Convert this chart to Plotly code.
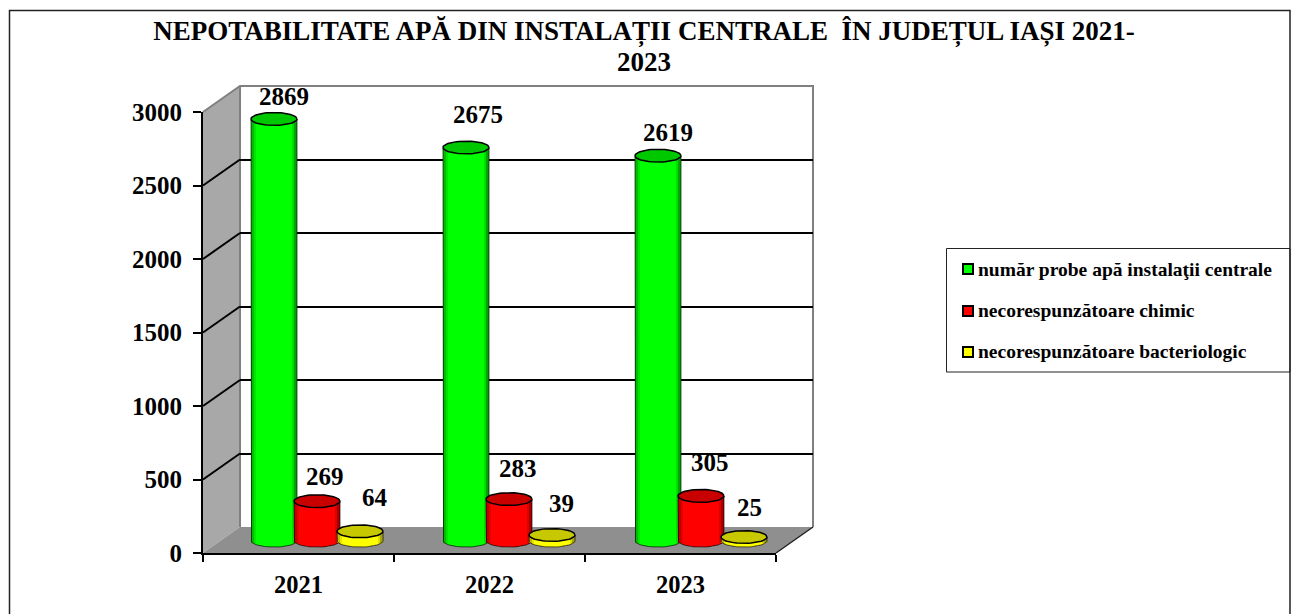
import math
import plotly.graph_objects as go

categories = ["2021", "2022", "2023"]
series_names = ["număr probe apă instalaţii centrale", "necorespunzătoare chimic", "necorespunzătoare bacteriologic"]
probe_values = [2869, 2675, 2619]
chimic_values = [269, 283, 305]
bacterio_values = [64, 39, 25]
all_values = [probe_values, chimic_values, bacterio_values]
y_ticks = [0, 500, 1000, 1500, 2000, 2500, 3000]
title_line1 = "NEPOTABILITATE APĂ DIN INSTALAȚII CENTRALE  ÎN JUDEȚUL IAȘI 2021-"
title_line2 = "2023"

# styling
W, H = 1300, 614
FONT = "Liberation Serif"
bright = [(0, 255, 0), (255, 0, 0), (255, 255, 0)]
legend_colors = ["#00FF00", "#FF0000", "#FFFF00"]
cap_colors = ["#00C800", "#C80000", "#C8C800"]
FX0, FX1, FY0, FY1 = 203, 776, 553, 112      # front axes box (px)
DX, DY = 37, 26                              # depth of walls (px)
BY = 12.3                                    # cylinders' vertical shift (px)
PXU = (FY0 - FY1) / 3000
CAT_PX = 192                                 # cylinder group spacing (px)
GROUP0_PX = 317                              # centre of the first group (px)
HALF_W = 23 / CAT_PX
STEP = 43 / CAT_PX
RY = 6.4 / PXU
N_STRIP = 17
# label offset relative to the top of each cylinder (px)
label_dx = [[10, 12, 10], [8, 9, 9], [15, 9, 5]]
label_dy = [[22, 33, 23], [25, 31, 33], [34, 31, 30]]
legend_rows = [269, 311, 352]


def fx(p):
    return p / W


def fy(p):
    return 1 - p / H


def poly(points):
    return "M " + " L ".join(f"{fx(a):.5f},{fy(b):.5f}" for a, b in points) + " Z"


fig = go.Figure()

# back wall (grid is drawn by this axis pair)
fig.add_trace(go.Scatter(x=[0], y=[0], xaxis="x", yaxis="y", mode="none", showlegend=False, hoverinfo="skip"))
# front axes
fig.add_trace(go.Scatter(x=categories, y=[0, 0, 0], xaxis="x2", yaxis="y2", mode="none", showlegend=False, hoverinfo="skip"))

b_bottom = FY0 - 1
b_top = 100
base_px = FY0 - BY
cyl_yrange = [-(b_bottom - base_px) / PXU, (base_px - b_top) / PXU]

for s, vals in enumerate(all_values):
    ax = s + 3
    xa, ya = f"x{ax}", f"y{ax}"
    offset_c = (s - 1) * STEP
    w = 2 * HALF_W / N_STRIP
    r, g, b = bright[s]
    for j in range(N_STRIP):
        left = -HALF_W + j * w
        u = (left + w / 2) / HALF_W
        edge = 1 - abs(u)
        k = 0.66 + 0.34 * min(1, edge / 0.25) if u < 0 else 0.55 + 0.45 * min(1, edge / 0.25)
        col = f"rgb({int(r*k)},{int(g*k)},{int(b*k)})"
        bottom = -RY * math.sqrt(max(0, 1 - u * u))
        fig.add_trace(go.Bar(
            x=[0, 1, 2], y=[v - bottom for v in vals], base=[bottom] * 3,
            width=w * 1.12, offset=offset_c + left,
            marker=dict(color=col, line=dict(width=0)),
            xaxis=xa, yaxis=ya, showlegend=False, hoverinfo="skip",
        ))
    # outline and caps
    ox, oy, cx, cy = [], [], [], []
    for i, v in enumerate(vals):
        c = i + offset_c
        ox += [c - HALF_W]
        oy += [v]
        for d in range(0, 181, 6):
            t = math.radians(d)
            ox.append(c - HALF_W * math.cos(t))
            oy.append(-RY * math.sin(t))
        ox += [c + HALF_W, None]
        oy += [v, None]
        for d in range(0, 361, 6):
            t = math.radians(d)
            cx.append(c + HALF_W * math.cos(t))
            cy.append(v + RY * math.sin(t))
        cx.append(None)
        cy.append(None)
    fig.add_trace(go.Scatter(x=ox, y=oy, mode="lines", line=dict(color="rgba(0,0,0,0.65)", width=1),
                             xaxis=xa, yaxis=ya, showlegend=False, hoverinfo="skip"))
    fig.add_trace(go.Scatter(x=cx, y=cy, mode="lines", fill="toself", fillcolor=cap_colors[s],
                             line=dict(color="#000000", width=1.5),
                             xaxis=xa, yaxis=ya, showlegend=False, hoverinfo="skip"))

# legend entries (keys and box are drawn as shapes so they sit as in the reference)
for s, name in enumerate(series_names):
    fig.add_trace(go.Scatter(x=[None], y=[None], xaxis="x", yaxis="y", mode="markers", name=name,
                             legendgroup=f"g{s}",
                             marker=dict(symbol="square", size=10, color="rgba(0,0,0,0)", line=dict(width=0))))

annotations = []
for s, vals in enumerate(all_values):
    offset_c = (s - 1) * STEP
    for i, v in enumerate(vals):
        annotations.append(dict(
            x=i + offset_c, y=v, xref=f"x{s+3}", yref=f"y{s+3}", text=str(v), showarrow=False,
            xshift=label_dx[s][i], yshift=label_dy[s][i], xanchor="center", yanchor="middle",
            font=dict(family=FONT, size=25, color="#000000", weight="bold"),
        ))
annotations.append(dict(x=fx(644), y=fy(62), xref="paper", yref="paper", text=title_line2, showarrow=False,
                        xanchor="center", yanchor="middle",
                        font=dict(family=FONT, size=27, color="#000000", weight="bold")))

shapes = []
# left wall, floor
shapes.append(dict(type="path", xref="paper", yref="paper", layer="below", line=dict(width=0), fillcolor="#A8A8A8",
                   path=poly([(FX0, FY1), (FX0 + DX, FY1 - DY), (FX0 + DX, FY0 - DY), (FX0, FY0)])))
shapes.append(dict(type="path", xref="paper", yref="paper", layer="below", line=dict(width=0), fillcolor="#8F8F8F",
                   path=poly([(FX0, FY0), (FX0 + DX, FY0 - DY), (FX1 + DX, FY0 - DY), (FX1, FY0)])))
# wall edges
edge = dict(color="#808080", width=2)
shapes.append(dict(type="path", xref="paper", yref="paper", layer="below", line=edge,
                   path="M " + " L ".join(f"{fx(a):.5f},{fy(b):.5f}" for a, b in [
                       (FX0, FY1), (FX0 + DX, FY1 - DY), (FX1 + DX, FY1 - DY), (FX1 + DX, FY0 - DY)])))
shapes.append(dict(type="line", xref="paper", yref="paper", layer="below", line=edge,
                   x0=fx(FX0 + DX), x1=fx(FX0 + DX), y0=fy(FY1 - DY), y1=fy(FY0 - DY)))
shapes.append(dict(type="line", xref="paper", yref="paper", layer="below", line=dict(color="#222222", width=1.5),
                   x0=fx(FX1), x1=fx(FX1 + DX), y0=fy(FY0), y1=fy(FY0 - DY)))
# diagonals on the left wall
for t in y_ticks[1:-1]:
    yp = FY0 - t * PXU
    shapes.append(dict(type="line", xref="paper", yref="paper", layer="below", line=dict(color="#000000", width=2),
                       x0=fx(FX0), x1=fx(FX0 + DX), y0=fy(yp), y1=fy(yp - DY)))
# outer frame
shapes.append(dict(type="rect", xref="paper", yref="paper", layer="below", line=dict(color="#222222", width=1.5),
                   x0=fx(9.5), x1=fx(1290), y0=fy(10.5), y1=fy(640)))
# legend box and keys
shapes.append(dict(type="rect", xref="paper", yref="paper", layer="below", line=dict(color="#222222", width=1),
                   x0=fx(946.5), x1=fx(1290), y0=fy(248.5), y1=fy(372)))
for s, row in enumerate(legend_rows):
    shapes.append(dict(type="rect", xref="paper", yref="paper", layer="below", fillcolor=legend_colors[s],
                       line=dict(color="#000000", width=2),
                       x0=fx(963), x1=fx(973), y0=fy(row - 5), y1=fy(row + 5)))

layout = dict(
    width=W, height=H, autosize=False, margin=dict(l=0, r=0, t=0, b=0, autoexpand=False),
    paper_bgcolor="#FFFFFF", plot_bgcolor="rgba(0,0,0,0)",
    font=dict(family=FONT, color="#000000"),
    barmode="overlay", bargap=0,
    title=dict(text=title_line1, x=644 / W, xanchor="center", xref="paper",
               y=fy(31), yanchor="middle", yref="container",
               font=dict(family=FONT, size=27, color="#000000", weight="bold")),
    shapes=shapes, annotations=annotations,
    legend=dict(x=fx(947), y=fy(249), xanchor="left", yanchor="top", bgcolor="rgba(0,0,0,0)",
                borderwidth=0, tracegroupgap=13, indentation=-9,
                font=dict(family=FONT, size=19.5, color="#000000", weight="bold")),
    # back wall
    xaxis=dict(domain=[fx(FX0 + DX), fx(FX1 + DX)], range=[0, 1], visible=True, showline=False, showgrid=False,
               zeroline=False, showticklabels=False, ticks="", fixedrange=True, anchor="y"),
    yaxis=dict(domain=[fy(FY0 - DY), fy(FY1 - DY)], range=[0, 3000], tickvals=y_ticks[1:-1], showgrid=True,
               gridcolor="#000000", gridwidth=2, zeroline=False, showline=False, showticklabels=False, ticks="",
               fixedrange=True, anchor="x"),
    # front axes
    xaxis2=dict(domain=[fx(FX0), fx(FX1)], type="category", categoryorder="array", categoryarray=categories,
                range=[-0.5, 2.5], tickson="boundaries", ticks="outside", ticklen=7, tickwidth=1.5, tickcolor="#000000",
                showline=True, linecolor="#000000", linewidth=2, showgrid=False, zeroline=False,
                tickfont=dict(family=FONT, size=24.5, color="#000000", weight="bold"), ticklabelstandoff=9,
                anchor="y2", fixedrange=True),
    yaxis2=dict(domain=[fy(FY0), fy(FY1)], range=[0, 3000], tickvals=y_ticks, ticks="outside", ticklen=8, tickwidth=1.5,
                tickcolor="#000000", showline=True, linecolor="#000000", linewidth=2, showgrid=False, zeroline=False,
                tickfont=dict(family=FONT, size=25, color="#000000", weight="bold"), ticklabelstandoff=6,
                anchor="x2", fixedrange=True),
)
for s in range(3):
    ax = s + 3
    left_px = GROUP0_PX - CAT_PX / 2
    xa = dict(domain=[fx(left_px), fx(left_px + 3 * CAT_PX)], range=[-0.5, 2.5], visible=False, fixedrange=True, anchor=f"y{ax}")
    ya = dict(domain=[fy(b_bottom), fy(b_top)], range=cyl_yrange, visible=False, fixedrange=True, anchor=f"x{ax}")
    if s:
        xa["overlaying"] = "x3"
        ya["overlaying"] = "y3"
    layout[f"xaxis{ax}"] = xa
    layout[f"yaxis{ax}"] = ya

fig.update_layout(**layout)

fig.write_html("out.html", post_script="document.body.style.margin='0';document.documentElement.style.overflow='hidden';",
               config=dict(displayModeBar=False))
